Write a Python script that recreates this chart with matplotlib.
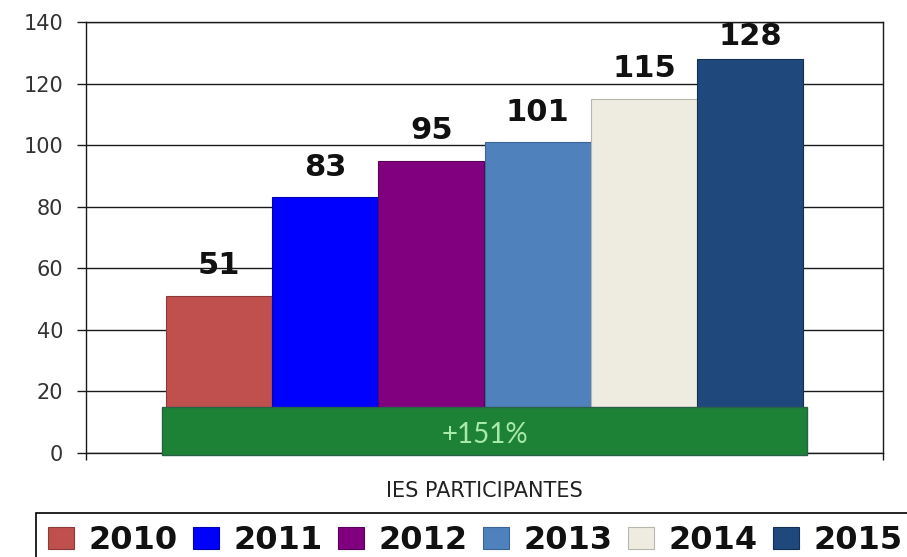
import matplotlib.pyplot as plt
from matplotlib.patches import Rectangle
import numpy as np

# ----------------------------------------------------------------------
# Data
# ----------------------------------------------------------------------

years = ["2010", "2011", "2012", "2013", "2014", "2015"]
ies_count = [51, 83, 95, 101, 115, 128]
category = "IES PARTICIPANTES"
growth_label = "+151%"

bar_colors = ["#c0504d", "#0000ff", "#800080", "#4f81bd", "#eeece1", "#1f497d"]
edge_colors = ["#8c3a38", "#0000b0", "#5a005a", "#3a6595", "#b8b6ad", "#152f52"]

# ----------------------------------------------------------------------
# Figure
# ----------------------------------------------------------------------

fig = plt.figure(figsize=(9.07, 5.57), dpi=100)
ax = fig.add_axes([86 / 907, 1 - 453 / 557, 797 / 907, 431 / 557])

n = len(years)
group_width = 0.8
bar_w = group_width / n
xpos = -group_width / 2 + bar_w * (np.arange(n) + 0.5)

for i in range(n):
    ax.bar(xpos[i], ies_count[i], width=bar_w, color=bar_colors[i],
           edgecolor=edge_colors[i], linewidth=0.8, label=years[i], zorder=3)

# value labels above bars, kept inside the plot area
for x, v in zip(xpos, ies_count):
    y = min(v + 7.0, 132.5)
    ax.text(x, y, str(v), ha="center", va="baseline", fontsize=22,
            fontweight="bold", color="#111111", zorder=5)

# growth banner across the bottom of the bars
ax.add_patch(Rectangle((-0.405, -0.8), 0.81, 15.8, facecolor="#1d8236",
                       edgecolor="#2a6048", linewidth=1.0, zorder=4,
                       clip_on=False))
ax.text(0, 6.0, growth_label, ha="center", va="center", fontsize=20,
        family=["Lato", "DejaVu Sans"], color="#a8eaa8", zorder=6)

# axes
ax.set_xlim(-0.5, 0.5)
ax.set_ylim(0, 140)
ax.set_yticks(np.arange(0, 141, 20))
ax.yaxis.grid(True, color="#1a1a1a", linewidth=1.0, zorder=0)
ax.set_axisbelow(True)
ax.tick_params(axis="y", length=6.5, width=1.0, pad=10, labelsize=15,
               labelcolor="#333333", color="#1a1a1a")

ax.set_xticks([0])
ax.set_xticklabels([category], fontsize=15, color="#222222")
ax.tick_params(axis="x", which="major", length=0, pad=20)
ax.set_xticks([-0.5, 0.5], minor=True)
ax.tick_params(axis="x", which="minor", length=5, width=1.0, color="#1a1a1a")

for side in ["left", "right", "top", "bottom"]:
    ax.spines[side].set_color("#1a1a1a")
    ax.spines[side].set_linewidth(1.0)

# legend along the bottom edge
leg = fig.legend(loc="upper left", bbox_to_anchor=(36 / 907, 1 - 513 / 557),
                 borderaxespad=0, ncol=n, fontsize=23, frameon=True,
                 fancybox=False, framealpha=1, edgecolor="black",
                 handlelength=0.81, handleheight=0.72, handletextpad=0.44,
                 columnspacing=0.5, borderpad=0.38)
leg.get_frame().set_linewidth(1.2)
for t in leg.get_texts():
    t.set_fontweight("bold")
    t.set_color("#111111")

fig.savefig("out.png", dpi=100)
